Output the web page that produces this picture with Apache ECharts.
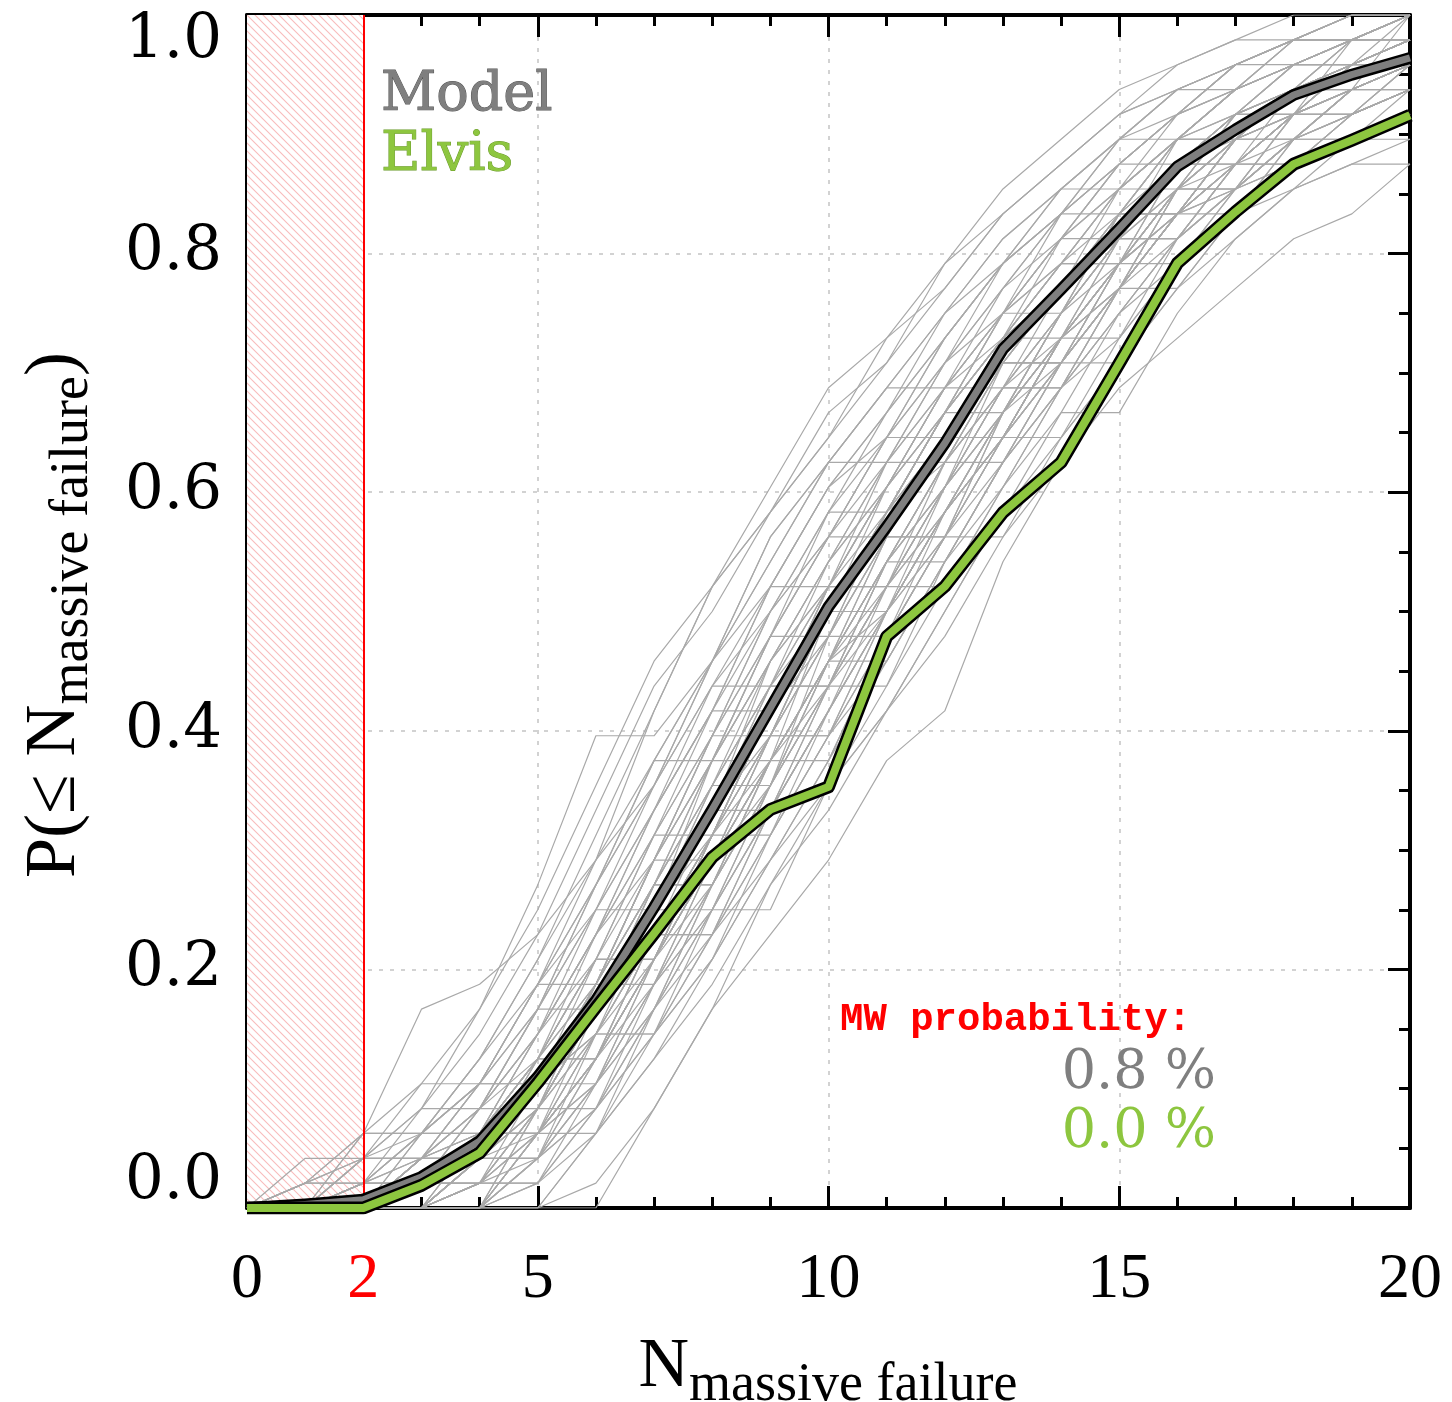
<!DOCTYPE html>
<html>
<head>
<meta charset="UTF-8">
<title>P(N massive failure)</title>
<script src="https://cdn.jsdelivr.net/npm/echarts@6/dist/echarts.min.js"></script>
<style>
  html, body { margin: 0; padding: 0; background: #fff; }
  #main { width: 1452px; height: 1402px; }
</style>
</head>
<body>
<div id="main"></div>
<script type="text/javascript">
// N values (x)
var nValues = [0,1,2,3,4,5,6,7,8,9,10,11,12,13,14,15,16,17,18,19,20];
var xTickLabels = [0, 2, 5, 10, 15, 20];

// mean model cumulative curve
var modelP = [0,0.003,0.007,0.026,0.056,0.110,0.174,0.252,0.334,0.419,0.504,
              0.571,0.641,0.720,0.770,0.821,0.873,0.904,0.933,0.950,0.964];
// Elvis cumulative curve
var elvisP = [0,0,0,0.019,0.046,0.105,0.168,0.230,0.294,0.334,0.353,
              0.479,0.521,0.583,0.625,0.708,0.792,0.835,0.875,0.895,0.916];

// single model realisations, counted in 48ths (thin grey lines)
var realTotal = 48;
var realisations = [
  [0,0,0,0,3,3,7,12,16,21,21,26,30,33,36,40,40,43,45,46,47],
  [0,0,0,2,2,5,10,10,15,20,24,29,32,32,36,38,42,44,44,46,47],
  [0,0,0,0,0,4,8,13,13,17,23,27,27,31,35,37,41,41,44,45,48],
  [0,0,3,3,3,3,8,12,17,17,22,26,29,34,34,38,40,43,45,45,46],
  [0,0,0,1,4,8,8,12,18,22,25,25,30,34,37,39,39,42,44,47,47],
  [0,0,0,0,2,2,5,9,14,19,19,24,28,31,35,35,39,42,42,44,45],
  [0,0,1,1,4,7,12,12,16,22,26,29,33,33,36,40,43,43,45,46,46],
  [0,0,0,0,0,0,3,7,12,12,17,21,26,30,33,37,37,40,43,43,44],
  [0,0,0,2,5,5,9,14,18,23,27,27,31,35,38,38,42,44,46,46,48],
  [0,0,0,0,1,5,9,9,13,18,21,26,26,30,34,37,40,40,42,44,45],
  [0,2,2,2,2,6,10,15,19,19,24,28,32,35,35,39,42,44,45,46,47],
  [0,0,0,1,1,3,6,11,15,20,25,25,29,33,37,40,40,43,44,44,46],
  [0,0,0,0,3,6,6,10,15,19,23,28,31,31,35,38,41,42,45,47,47],
  [0,0,0,0,0,2,7,11,11,16,20,24,29,33,33,37,40,43,43,45,46],
  [0,0,2,4,4,8,12,17,21,21,25,30,33,36,39,39,43,45,46,47,48],
  [0,0,0,0,2,4,4,8,13,17,22,22,26,30,34,37,40,41,44,44,45],
  [0,1,1,3,5,5,9,13,17,22,26,30,30,34,37,41,43,43,45,46,47],
  [0,0,0,0,0,3,7,7,11,15,20,24,27,31,31,34,38,40,42,43,43],
  [0,0,0,2,3,6,11,15,15,20,25,29,32,35,38,41,41,44,46,46,47],
  [0,0,0,0,1,1,5,10,14,18,18,23,27,32,35,37,40,42,42,44,46],
  [0,0,3,3,6,9,13,17,22,26,30,30,34,38,40,43,43,45,47,47,48],
  [0,0,0,0,0,0,0,4,8,13,17,20,24,28,32,32,36,39,41,42,42],
  [0,0,0,1,3,7,10,10,14,19,23,27,31,31,35,39,42,42,44,46,46],
  [0,0,0,0,2,2,5,9,12,16,21,21,25,29,33,35,38,40,43,43,44],
  [0,0,0,3,3,7,11,16,20,25,25,29,33,37,40,40,43,45,46,47,48],
  [0,0,0,0,0,4,8,12,12,17,21,26,30,33,35,38,38,41,43,45,45],
  [0,0,1,1,3,6,6,10,15,20,24,27,27,32,36,39,42,44,44,46,47],
  [0,0,0,0,2,4,7,11,11,15,19,23,28,32,34,34,38,41,43,44,45],
  [0,0,0,2,4,4,9,14,19,23,23,28,32,36,38,41,43,43,45,47,48],
  [0,0,0,0,0,3,6,11,15,15,19,24,28,31,34,38,40,42,44,44,46],
  [0,1,3,5,5,9,13,17,22,27,30,33,33,36,40,42,44,46,46,47,48],
  [0,0,0,0,1,1,4,7,10,14,18,23,27,27,31,35,38,40,41,43,44],
  [0,0,0,1,3,6,10,10,15,19,24,28,31,35,38,38,41,44,45,45,46],
  [0,0,0,0,2,5,5,10,14,18,22,27,31,34,34,38,41,43,45,46,47],
  [0,0,2,2,3,5,9,13,13,18,24,28,32,35,38,40,40,43,45,46,46],
  [0,0,0,1,1,4,8,13,17,21,21,25,29,33,36,39,41,41,44,45,46],
  [0,0,0,0,0,0,3,6,10,14,17,20,23,27,30,33,35,37,39,40,42],
  [0,0,0,1,4,8,13,18,18,23,28,32,35,38,41,41,44,46,47,48,48],
  [0,0,0,2,2,5,8,12,16,19,23,23,27,31,35,38,41,43,43,45,46],
  [0,0,0,0,1,4,7,7,11,16,21,25,29,32,36,39,39,42,44,45,46],
  [0,0,0,0,0,0,1,4,8,11,14,18,20,26,30,34,37,39,41,42,43],
  [0,0,1,3,6,10,15,20,25,29,33,35,37,40,42,44,45,46,47,47,48],
  [0,1,3,8,9,11,14,18,22,26,30,33,36,39,41,43,45,46,47,48,48],
  [0,0,0,0,3,3,3,8,13,18,22,26,30,30,34,37,41,44,44,46,47],
  [0,0,0,1,1,4,9,14,14,19,24,28,32,35,37,40,43,45,46,46,47],
  [0,0,0,0,2,6,10,14,18,18,22,25,28,32,35,38,40,42,44,45,45],
  [0,0,2,2,2,5,9,13,18,23,27,31,31,35,39,42,44,45,46,47,48],
  [0,0,0,0,0,2,6,10,15,20,24,24,28,32,36,39,42,42,44,45,46],
  [0,0,0,1,3,3,6,10,14,18,22,27,31,34,34,38,41,43,45,46,46],
  [0,0,0,0,1,4,8,12,16,16,20,25,29,33,36,39,39,42,44,46,47],
  [0,0,1,3,5,9,9,14,19,23,27,30,34,37,40,43,45,45,46,47,48],
  [0,0,0,0,0,3,5,8,12,17,21,25,25,29,33,37,40,42,44,44,45],
  [0,0,0,2,4,7,11,15,19,24,28,28,32,36,39,41,43,45,47,47,48],
  [0,0,0,0,2,2,6,11,15,19,24,28,31,31,35,37,40,43,44,45,46],
  [0,0,0,1,2,5,8,12,17,21,25,29,33,36,36,40,43,44,45,47,47],
  [0,0,0,0,0,3,7,11,15,19,19,23,27,31,34,37,41,43,43,45,46],
  [0,1,1,3,5,8,12,16,20,20,25,29,32,36,39,42,44,46,47,47,48],
  [0,0,0,0,1,3,6,10,14,18,22,26,30,33,33,36,39,41,43,45,46],
  [0,0,0,2,4,6,10,15,20,25,29,32,35,38,40,42,42,44,46,47,47],
  [0,0,0,0,0,2,5,9,13,17,22,26,29,32,35,38,41,41,43,44,45],
  [0,0,1,4,8,13,19,19,22,27,30,33,36,38,40,42,44,46,47,48,48],
  [0,0,0,3,6,10,14,20,25,28,32,34,37,40,42,44,45,46,47,48,48],
  [0,0,0,0,0,1,3,6,9,13,16,20,24,28,31,34,37,40,42,43,44],
  [0,0,2,5,8,12,17,22,25,28,31,34,38,41,43,45,46,47,48,48,48],
  [0,0,0,0,1,2,4,8,11,14,18,22,26,30,33,36,39,41,43,44,45],
  [0,1,2,4,7,11,16,21,24,28,31,35,38,40,42,44,46,47,47,48,48],
  [0,0,0,1,2,3,6,9,12,16,20,24,28,31,34,37,39,41,42,43,45],
  [0,0,0,2,5,9,14,17,21,24,27,31,35,38,41,43,44,46,47,47,48],
  [0,0,0,0,0,2,4,7,10,15,19,22,26,29,32,36,38,40,42,43,44],
  [0,0,1,2,5,9,12,16,21,25,29,31,34,37,39,42,44,45,47,48,48],
  [0,0,0,1,3,5,7,11,15,18,22,24,28,31,34,37,40,42,43,45,46],
  [0,0,0,0,2,5,8,13,18,22,26,29,33,36,39,41,43,45,46,46,47],
  [0,0,1,1,3,7,11,14,19,24,27,31,34,36,38,41,43,44,46,47,48],
  [0,0,0,0,1,3,5,8,12,16,20,24,27,30,33,36,39,41,42,44,45],
  [0,0,0,2,3,6,9,13,17,21,26,30,33,35,37,40,42,44,45,46,47],
  [0,0,0,0,0,1,4,9,14,18,22,26,29,32,35,37,40,42,44,45,46],
  [0,1,2,3,5,8,13,18,22,25,29,32,36,39,41,43,45,46,47,47,48],
  [0,0,0,1,2,5,7,10,13,17,21,25,28,32,35,38,40,41,43,44,45],
  [0,0,0,0,2,4,8,11,16,21,24,28,30,34,37,40,42,44,45,46,47],
  [0,0,0,1,3,6,9,14,18,22,25,28,32,35,37,39,41,43,44,45,46],
  [0,0,0,0,0,3,6,10,14,17,21,24,28,31,35,38,40,42,44,45,46],
  [0,0,1,2,4,7,11,16,20,24,28,31,35,38,40,42,44,45,46,47,47],
  [0,0,0,1,2,4,8,12,15,20,23,27,31,34,37,39,42,43,44,46,47]
];

var excludedMax = 2;         // hatched region 0..2
var mwModelText = '0.8 %';
var mwElvisText = '0.0 %';

var greyCol = '#7f7f7f';
var greenCol = '#8dc63f';

// hatch pattern for excluded region
var hatch = document.createElement('canvas');
hatch.width = 8; hatch.height = 8;
var hc = hatch.getContext('2d');
hc.fillStyle = '#ffffff';
hc.fillRect(0, 0, 8, 8);
hc.strokeStyle = '#f8bcbc';
hc.lineWidth = 1.1;
hc.beginPath();
hc.moveTo(-1, -1); hc.lineTo(9, 9);
hc.moveTo(-1, 7); hc.lineTo(1, 9);
hc.moveTo(7, -1); hc.lineTo(9, 1);
hc.stroke();

function pairs(arr) {
  return nValues.map(function (n, i) { return [n, arr[i]]; });
}

var myChart = echarts.init(document.getElementById('main'));

var series = [];
realisations.forEach(function (r, k) {
  var s = {
    type: 'line',
    data: pairs(r.map(function (c) { return c / realTotal; })),
    symbol: 'none',
    silent: true,
    z: 3,
    lineStyle: { color: '#a9a9a9', width: 1.2 }
  };
  if (k === 0) {
    s.markArea = {
      silent: true,
      z: 1,
      itemStyle: { color: { image: hatch, repeat: 'repeat' } },
      data: [[{ xAxis: 0 }, { xAxis: excludedMax }]]
    };
    s.markLine = {
      silent: true,
      symbol: ['none', 'none'],
      label: { show: false },
      lineStyle: { color: '#ff0000', width: 2, type: 'solid' },
      data: [{ xAxis: excludedMax }]
    };
  }
  series.push(s);
});

// model: black outline + grey core
series.push({ type: 'line', data: pairs(modelP), symbol: 'none', silent: true, z: 5,
  lineStyle: { color: '#000', width: 12, join: 'round' } });
series.push({ type: 'line', data: pairs(modelP), symbol: 'none', silent: true, z: 6,
  lineStyle: { color: greyCol, width: 7, join: 'round' } });
// elvis: black outline + green core
series.push({ type: 'line', data: pairs(elvisP), symbol: 'none', silent: true, z: 7,
  lineStyle: { color: '#000', width: 13, join: 'round' } });
series.push({ type: 'line', data: pairs(elvisP), symbol: 'none', silent: true, z: 8,
  lineStyle: { color: greenCol, width: 8, join: 'round' } });

var tickStyle = { color: '#000', width: 3 };
var gridDash = { color: '#c4c4c4', width: 1.5, type: [4, 7] };

var option = {
  animation: false,
  backgroundColor: '#fff',
  grid: { left: 247, right: 42, top: 15, bottom: 194, containLabel: false, outerBoundsMode: 'none' },
  xAxis: [{
    type: 'value', min: 0, max: 20, interval: 5, position: 'bottom',
    axisLine: { show: true, onZero: false, lineStyle: { color: '#000', width: 4 } },
    axisTick: { show: true, inside: true, length: 22, lineStyle: tickStyle },
    minorTick: { show: true, splitNumber: 5, length: 11, lineStyle: tickStyle },
    splitLine: { show: true, lineStyle: gridDash },
    axisLabel: {
      customValues: xTickLabels,
      margin: 40,
      fontFamily: 'Liberation Serif', fontSize: 64, color: '#000',
      formatter: function (v) { return v === excludedMax ? '{r|' + v + '}' : '' + v; },
      rich: { r: { color: '#ff0000', fontFamily: 'Liberation Serif', fontSize: 64 } }
    }
  }, {
    type: 'value', min: 0, max: 20, interval: 5, position: 'top',
    axisLine: { show: true, onZero: false, lineStyle: { color: '#000', width: 4 } },
    axisTick: { show: true, inside: true, length: 22, lineStyle: tickStyle },
    minorTick: { show: true, splitNumber: 5, length: 11, lineStyle: tickStyle },
    splitLine: { show: false },
    axisLabel: { show: false }
  }],
  yAxis: [{
    type: 'value', min: 0, max: 1, interval: 0.2, position: 'left',
    axisLine: { show: true, onZero: false, lineStyle: { color: '#000', width: 4 } },
    axisTick: { show: true, inside: true, length: 22, lineStyle: tickStyle },
    minorTick: { show: true, splitNumber: 4, length: 11, lineStyle: tickStyle },
    splitLine: { show: true, lineStyle: gridDash },
    axisLabel: {
      margin: 25, fontFamily: 'DejaVu Serif', fontSize: 61, lineHeight: 52, color: '#000',
      verticalAlignMinLabel: 'bottom', verticalAlignMaxLabel: 'top',
      formatter: function (v) { return v.toFixed(1); }
    }
  }, {
    type: 'value', min: 0, max: 1, interval: 0.2, position: 'right',
    axisLine: { show: true, onZero: false, lineStyle: { color: '#000', width: 4 } },
    axisTick: { show: true, inside: true, length: 22, lineStyle: tickStyle },
    minorTick: { show: true, splitNumber: 4, length: 11, lineStyle: tickStyle },
    splitLine: { show: false },
    axisLabel: { show: false }
  }],
  graphic: [
    { type: 'text', x: 381, y: 96, z: 20,
      style: { text: 'Model', fontFamily: 'DejaVu Serif', fontSize: 54, fill: greyCol,
               stroke: '#555', lineWidth: 1, align: 'left', verticalAlign: 'middle' } },
    { type: 'text', x: 381, y: 156, z: 20,
      style: { text: 'Elvis', fontFamily: 'DejaVu Serif', fontSize: 54, fill: greenCol,
               stroke: '#6a9a2a', lineWidth: 1, align: 'left', verticalAlign: 'middle' } },
    { type: 'text', x: 840, y: 1020, z: 20,
      style: { text: 'MW probability:', fontFamily: 'Liberation Mono', fontWeight: 'bold',
               fontSize: 39, fill: '#ff0000', align: 'left', verticalAlign: 'middle' } },
    { type: 'text', x: 1216, y: 1074, z: 20,
      style: { text: mwModelText, fontFamily: 'DejaVu Serif', fontSize: 54, fill: greyCol,
               align: 'right', verticalAlign: 'middle' } },
    { type: 'text', x: 1216, y: 1133, z: 20,
      style: { text: mwElvisText, fontFamily: 'DejaVu Serif', fontSize: 54, fill: greenCol,
               align: 'right', verticalAlign: 'middle' } },
    // x axis title
    { type: 'text', x: 828, y: 1368, z: 20,
      style: {
        text: '{a|N}{s|massive failure}',
        align: 'center', verticalAlign: 'middle',
        rich: {
          a: { fontFamily: 'Liberation Serif', fontSize: 70, lineHeight: 90, fill: '#000' },
          s: { fontFamily: 'Liberation Serif', fontSize: 54, lineHeight: 90, fill: '#000', verticalAlign: 'bottom' }
        }
      } },
    // y axis title
    { type: 'text', x: 55, y: 615, rotation: Math.PI / 2, z: 20,
      style: {
        text: '{a|P(≤ N}{s|massive failure}{a|)}',
        align: 'center', verticalAlign: 'middle',
        rich: {
          a: { fontFamily: 'Liberation Serif', fontSize: 72, lineHeight: 90, fill: '#000' },
          s: { fontFamily: 'Liberation Serif', fontSize: 54, lineHeight: 90, fill: '#000', verticalAlign: 'bottom' }
        }
      } }
  ],
  series: series
};
myChart.setOption(option);
</script>
</body>
</html>
